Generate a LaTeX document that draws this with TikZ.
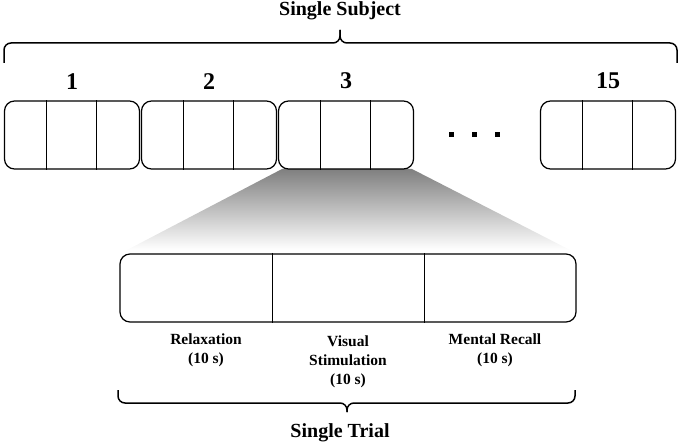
\documentclass[tikz,border=0pt]{standalone}
\usepackage{fontspec}
\setmainfont{Liberation Serif}
\usetikzlibrary{positioning}

\tikzset{
  blk/.style={draw,rounded corners=10pt,line width=1.2pt,minimum width=135pt,minimum height=68pt,inner sep=0pt},
  num/.style={font=\fontsize{24}{28}\selectfont\bfseries,inner sep=0pt},
  ttl/.style={font=\fontsize{20}{24}\selectfont\bfseries,inner sep=0pt,anchor=base},
  phase/.style={font=\fontsize{15.5}{19}\selectfont\bfseries,align=center,inner sep=0pt,anchor=north},
  brc/.style={line width=1.5pt,rounded corners=7pt},
  sep/.style={line width=1pt},
}

\begin{document}
\begin{tikzpicture}[x=1pt,y=1pt]
\useasboundingbox (0,0) rectangle (680,445);

% zoom from block 3 down to the trial
\shade[top color=black!50,bottom color=white] (282,276) -- (412,276) -- (570,195) -- (127,195) -- cycle;

\foreach \n/\x in {1/72,2/209,3/346,15/608}{
	\node[blk] (b\n) at (\x,310) {};
	\draw[sep] ([xshift=-26pt]b\n.north) -- ([xshift=-26pt]b\n.south);
	\draw[sep] ([xshift=24pt]b\n.north) -- ([xshift=24pt]b\n.south);
	\node[num,above=11pt of b\n] (n\n) {\n};
	}

\foreach \x in {451,474,497}{
	\fill (\x-2.5,307.5) rectangle (\x+2.5,312.5);
	}

\node[blk,minimum width=456pt] (trial) at (348,157) {};
\draw[sep] ([xshift=-76pt]trial.north) -- ([xshift=-76pt]trial.south);
\draw[sep] ([xshift=76pt]trial.north) -- ([xshift=76pt]trial.south);

\node[phase] (relax) at (206,111) {Relaxation\\(10 s)};
\node[phase] (visual) at (348,109) {Visual\\Stimulation\\(10 s)};
\node[phase] (recall) at (495,111) {Mental Recall\\(10 s)};

% braces
\draw[brc] (4,382) -- (4,402) -- (340,402) -- (340,415);
\draw[brc] (677,382) -- (677,402) -- (340,402) -- (340,415);
\node[ttl] (subject) at (340,429) {Single Subject};

\draw[brc] (118,55) -- (118,42) -- (347,42) -- (347,33);
\draw[brc] (575,55) -- (575,42) -- (347,42) -- (347,33);
\node[ttl] (single) at (340,8) {Single Trial};
\end{tikzpicture}
\end{document}
